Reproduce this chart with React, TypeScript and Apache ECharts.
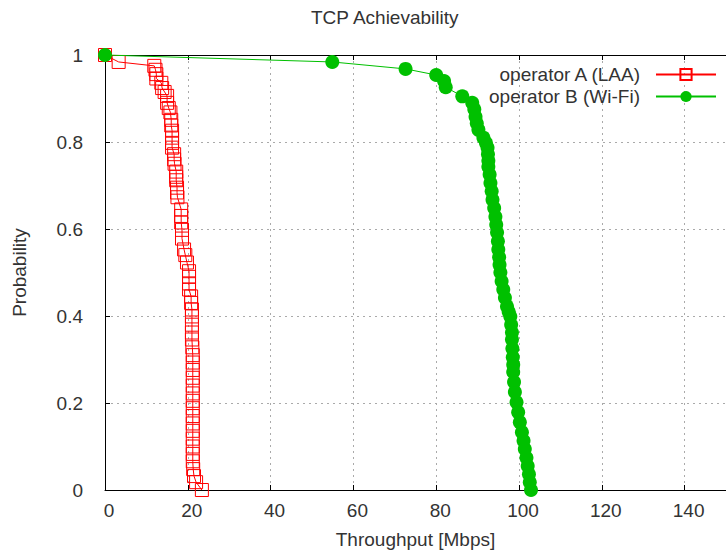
import React, { useEffect, useRef } from "react";
import * as echarts from "echarts";

const titleText = "TCP Achievability";
const xName = "Throughput [Mbps]";
const yName = "Probability";
const seriesNames = ["operator A (LAA)", "operator B (Wi-Fi)"];

// [throughput Mbps, probability]
const laaPoints: [number, number][] = [
  [0, 1.0], [3.3, 0.984], [11.9, 0.975], [12.2, 0.966], [12.4, 0.956], [12.4, 0.946],
  [13.6, 0.936], [13.8, 0.924], [14.4, 0.915], [15.0, 0.906], [15.0, 0.89], [15.4, 0.878],
  [15.8, 0.868], [16.0, 0.851], [16.0, 0.838], [16.2, 0.826], [16.2, 0.81], [16.2, 0.798],
  [16.2, 0.787], [16.7, 0.772], [16.7, 0.76], [16.8, 0.75], [17.2, 0.732], [17.2, 0.72],
  [17.2, 0.712], [17.4, 0.695], [17.4, 0.684], [17.5, 0.673], [18.4, 0.645], [18.4, 0.63],
  [18.4, 0.615], [18.6, 0.598], [18.6, 0.578], [19.1, 0.553], [19.4, 0.54], [19.8, 0.523],
  [20.3, 0.503], [20.3, 0.49], [20.3, 0.475], [20.3, 0.461], [20.8, 0.445], [20.8, 0.43],
  [21.0, 0.415], [21.0, 0.399], [21.0, 0.38], [21.0, 0.362], [21.0, 0.346], [21.1, 0.328],
  [21.2, 0.31], [21.2, 0.293], [21.2, 0.276], [21.2, 0.258], [21.2, 0.24], [21.2, 0.222],
  [21.2, 0.205], [21.2, 0.188], [21.2, 0.17], [21.2, 0.153], [21.2, 0.136], [21.2, 0.118],
  [21.2, 0.1], [21.2, 0.083], [21.2, 0.066], [21.3, 0.048], [21.5, 0.032], [22.0, 0.018],
  [23.4, 0.0],
];

const wifiPoints: [number, number][] = [
  [0, 1.0], [54.9, 0.984], [72.6, 0.968], [80.0, 0.954], [81.9, 0.94], [82.3, 0.926],
  [86.3, 0.905], [88.7, 0.89], [89.2, 0.875], [89.5, 0.858], [89.8, 0.843], [90.2, 0.828],
  [91.4, 0.81], [92.0, 0.798], [92.4, 0.787], [92.5, 0.772], [92.6, 0.757], [92.6, 0.743],
  [92.9, 0.725], [93.1, 0.706], [93.4, 0.687], [93.6, 0.667], [94.0, 0.648], [94.3, 0.628],
  [94.5, 0.61], [94.7, 0.592], [94.9, 0.572], [95.0, 0.553], [95.2, 0.535], [95.3, 0.518],
  [95.5, 0.5], [95.8, 0.48], [96.2, 0.461], [96.6, 0.442], [97.1, 0.422], [97.5, 0.41],
  [97.9, 0.399], [98.1, 0.38], [98.3, 0.362], [98.3, 0.346], [98.4, 0.325], [98.5, 0.305],
  [98.6, 0.288], [98.6, 0.271], [98.8, 0.248], [99.0, 0.225], [99.4, 0.202], [99.8, 0.179],
  [100.2, 0.156], [100.7, 0.133], [101.1, 0.113], [101.4, 0.094], [101.8, 0.074],
  [102.1, 0.055], [102.4, 0.036], [102.6, 0.018], [102.9, 0.0],
];

const xMin = 0;
const xMax = 150;
const xInterval = 20;
const yMin = 0;
const yMax = 1;
const yInterval = 0.2;

const FONT = "Liberation Sans";
const TEXT = "#333333";
const FS = 19;

export default function App() {
  const ref = useRef<HTMLDivElement>(null);
  useEffect(() => {
    if (!ref.current) return;
    const chart = echarts.init(ref.current, undefined, { renderer: "svg" });
    const gridLine = {
      show: true,
      lineStyle: { color: "#aaaaaa", type: [2, 4] as any, width: 1 },
    };
    chart.setOption({
      animation: false,
      backgroundColor: "#ffffff",
      textStyle: { fontFamily: FONT },
      title: {
        text: titleText,
        left: 306,
        top: 3,
        textStyle: { fontFamily: FONT, fontSize: FS, fontWeight: "normal", color: TEXT },
      },
      grid: { left: 105, right: -8, top: 55, bottom: 69, containLabel: false },
      legend: {
        orient: "vertical",
        right: 4,
        top: 60,
        align: "right",
        itemWidth: 60,
        itemHeight: 14,
        itemGap: 3,
        textStyle: { fontFamily: FONT, fontSize: FS, color: TEXT, padding: [0, 11, 0, 0] },
        data: seriesNames,
      },
      xAxis: [
        {
          type: "value",
          min: xMin,
          max: xMax,
          interval: xInterval,
          name: xName,
          nameLocation: "middle",
          nameGap: 40,
          nameTextStyle: { fontFamily: FONT, fontSize: FS, color: TEXT },
          axisLine: { show: true, onZero: false, lineStyle: { color: "#000", width: 1 } },
          axisTick: { show: true, inside: true, length: 5, lineStyle: { color: "#000" } },
          axisLabel: {
            fontFamily: FONT,
            fontSize: FS,
            color: TEXT,
            margin: 11,
            padding: [0, 0, 0, 8],
            showMaxLabel: false,
          },
          splitLine: gridLine,
        },
        {
          type: "value",
          position: "top",
          min: xMin,
          max: xMax,
          interval: xInterval,
          axisLine: { show: true, onZero: false, lineStyle: { color: "#000", width: 1 } },
          axisTick: { show: true, inside: true, length: 5, lineStyle: { color: "#000" } },
          axisLabel: { show: false },
          splitLine: { show: false },
        },
      ],
      yAxis: {
        type: "value",
        min: yMin,
        max: yMax,
        interval: yInterval,
        name: yName,
        nameLocation: "middle",
        nameGap: 76,
        nameRotate: 90,
        nameTextStyle: { fontFamily: FONT, fontSize: FS, color: TEXT },
        axisLine: { show: true, onZero: false, lineStyle: { color: "#000", width: 1 } },
        axisTick: { show: true, inside: true, length: 5, lineStyle: { color: "#000" } },
        axisLabel: { fontFamily: FONT, fontSize: FS, color: TEXT, margin: 22 },
        splitLine: gridLine,
      },
      series: [
        {
          name: seriesNames[0],
          type: "line",
          data: laaPoints,
          symbol: "rect",
          symbolSize: 13,
          clip: false,
          lineStyle: { color: "#ff0000", width: 1 },
          itemStyle: { color: "rgba(0,0,0,0)", borderColor: "#ff0000", borderWidth: 1 },
          z: 2,
        },
        {
          name: seriesNames[1],
          type: "line",
          data: wifiPoints,
          symbol: "circle",
          symbolSize: 14,
          clip: false,
          lineStyle: { color: "#00c000", width: 1 },
          itemStyle: { color: "#00c000" },
          z: 3,
        },
      ],
    });
    return () => chart.dispose();
  }, []);
  return (
    <div
      ref={ref}
      style={{ position: "fixed", left: 0, top: 0, width: 726, height: 559 }}
    />
  );
}
